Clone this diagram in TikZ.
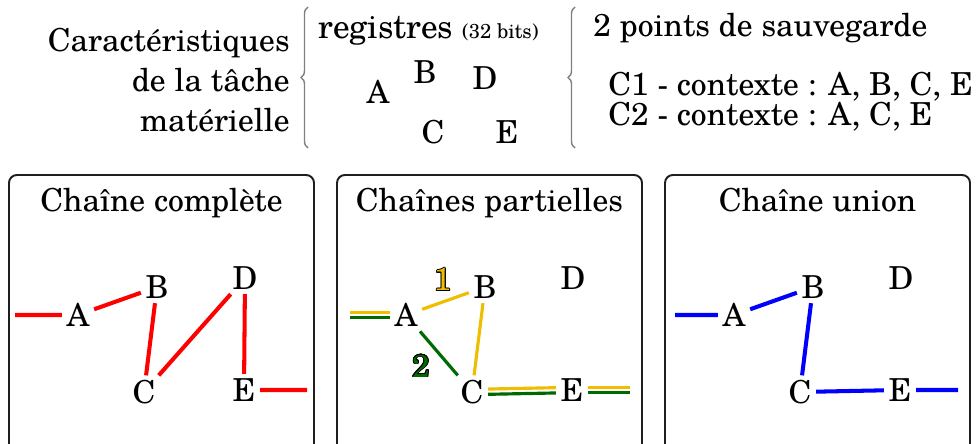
\documentclass[tikz,border=0pt]{standalone}
\usepackage{fontspec}
\setmainfont{TeX Gyre Schola}
\usepackage{tikz}
\usetikzlibrary{calc, decorations.pathreplacing}
\usepackage{contour}
\contourlength{0.45pt}
\definecolor{jaune}{RGB}{240,190,0}
\definecolor{vertfonce}{RGB}{0,105,0}
\definecolor{trait}{RGB}{30,30,30}

\begin{document}
\begin{tikzpicture}[
    every node/.style={font=\fontsize{18}{22}\selectfont, inner sep=0pt},
    lettre/.style={inner sep=2.5pt},
    cadre/.style={draw=trait, line width=1.1pt, rounded corners=4.5pt},
    accolade/.style={draw=gray, line width=0.8pt, decorate,
        decoration={brace, amplitude=0.14cm}},
    chaineR/.style={draw=red, line width=2.3pt},
    chaineB/.style={draw=blue, line width=2.3pt},
    chaineJ/.style={draw=jaune, line width=1.8pt},
    chaineV/.style={draw=vertfonce, line width=1.8pt},
    haut/.style={transform canvas={yshift=1.5pt}},
    bas/.style={transform canvas={yshift=-1.5pt}}
]
    \useasboundingbox (0,0) rectangle (19.52,8.86);

    \node[anchor=base east] (car1) at (5.80,7.82) {Caractéristiques};
    \node[anchor=base east] (car2) at (5.80,7.02) {de la tâche};
    \node[anchor=base east] (car3) at (5.80,6.22) {matérielle};
    \draw[accolade] (6.16,5.90) -- (6.16,8.72);

    \node[anchor=base west] (reg) at (6.36,8.08)
        {{\fontsize{19}{23}\selectfont registres} {\fontsize{11.5}{14}\selectfont(32 bits)}};
    \node (rA) at (7.56,7.02) {A};
    \node (rB) at (8.50,7.42) {B};
    \node (rD) at (9.70,7.30) {D};
    \node (rC) at (8.66,6.22) {C};
    \node (rE) at (10.14,6.22) {E};

    \draw[accolade] (11.50,5.90) -- (11.50,8.72);
    \node[anchor=base west] (svg) at (11.86,8.12) {2 points de sauvegarde};
    \node[anchor=base west] (ctx1) at (12.16,6.94) {C1 - contexte : A, B, C, E};
    \node[anchor=base west] (ctx2) at (12.16,6.34) {C2 - contexte : A, C, E};

    \foreach \i/\titre/\gauche/\droite in {1/Chaîne complète/0.30/6.14,
            2/Chaînes partielles/0.44/6.04, 3/Chaîne union/0.38/6.04} {
        \begin{scope}[xshift={(\i-1)*6.56cm}]
            \draw[cadre] (0.18,-0.2) -- (0.18,5.36) -- (6.28,5.36) -- (6.28,-0.2);
            \node[anchor=base] (titre\i) at (3.23,4.62) {\titre};
            \node[lettre] (A\i) at (1.56,2.56) {A};
            \node[lettre] (B\i) at (3.14,3.12) {B};
            \node[lettre] (C\i) at (2.88,1.02) {C};
            \node[lettre] (D\i) at (4.90,3.30) {D};
            \node[lettre] (E\i) at (4.88,1.06) {E};
            \coordinate (L\i) at (\gauche,2.56);
            \coordinate (R\i) at (\droite,1.06);
        \end{scope}
    }

    \draw[chaineR] (L1) -- (A1) (A1) -- (B1) (B1) -- (C1)
        (C1) -- (D1) (D1) -- (E1) (E1) -- (R1);

    \draw[chaineJ, haut] (L2) -- (A2);
    \draw[chaineV, bas] (L2) -- (A2);
    \draw[chaineJ] (A2) -- node[midway, xshift=-0.06cm, yshift=0.42cm]
        {\textcolor{jaune}{\contour{black}{1}}} (B2);
    \draw[chaineJ] (B2) -- (C2);
    \draw[chaineV] (A2) -- node[midway, xshift=-0.36cm, yshift=-0.26cm]
        {\textcolor{vertfonce}{\contour{black}{2}}} (C2);
    \draw[chaineJ, haut] (C2) -- (E2);
    \draw[chaineV, bas] (C2) -- (E2);
    \draw[chaineJ, haut] (E2) -- (R2);
    \draw[chaineV, bas] (E2) -- (R2);

    \draw[chaineB] (L3) -- (A3) (A3) -- (B3) (B3) -- (C3)
        (C3) -- (E3) (E3) -- (R3);
\end{tikzpicture}
\end{document}
